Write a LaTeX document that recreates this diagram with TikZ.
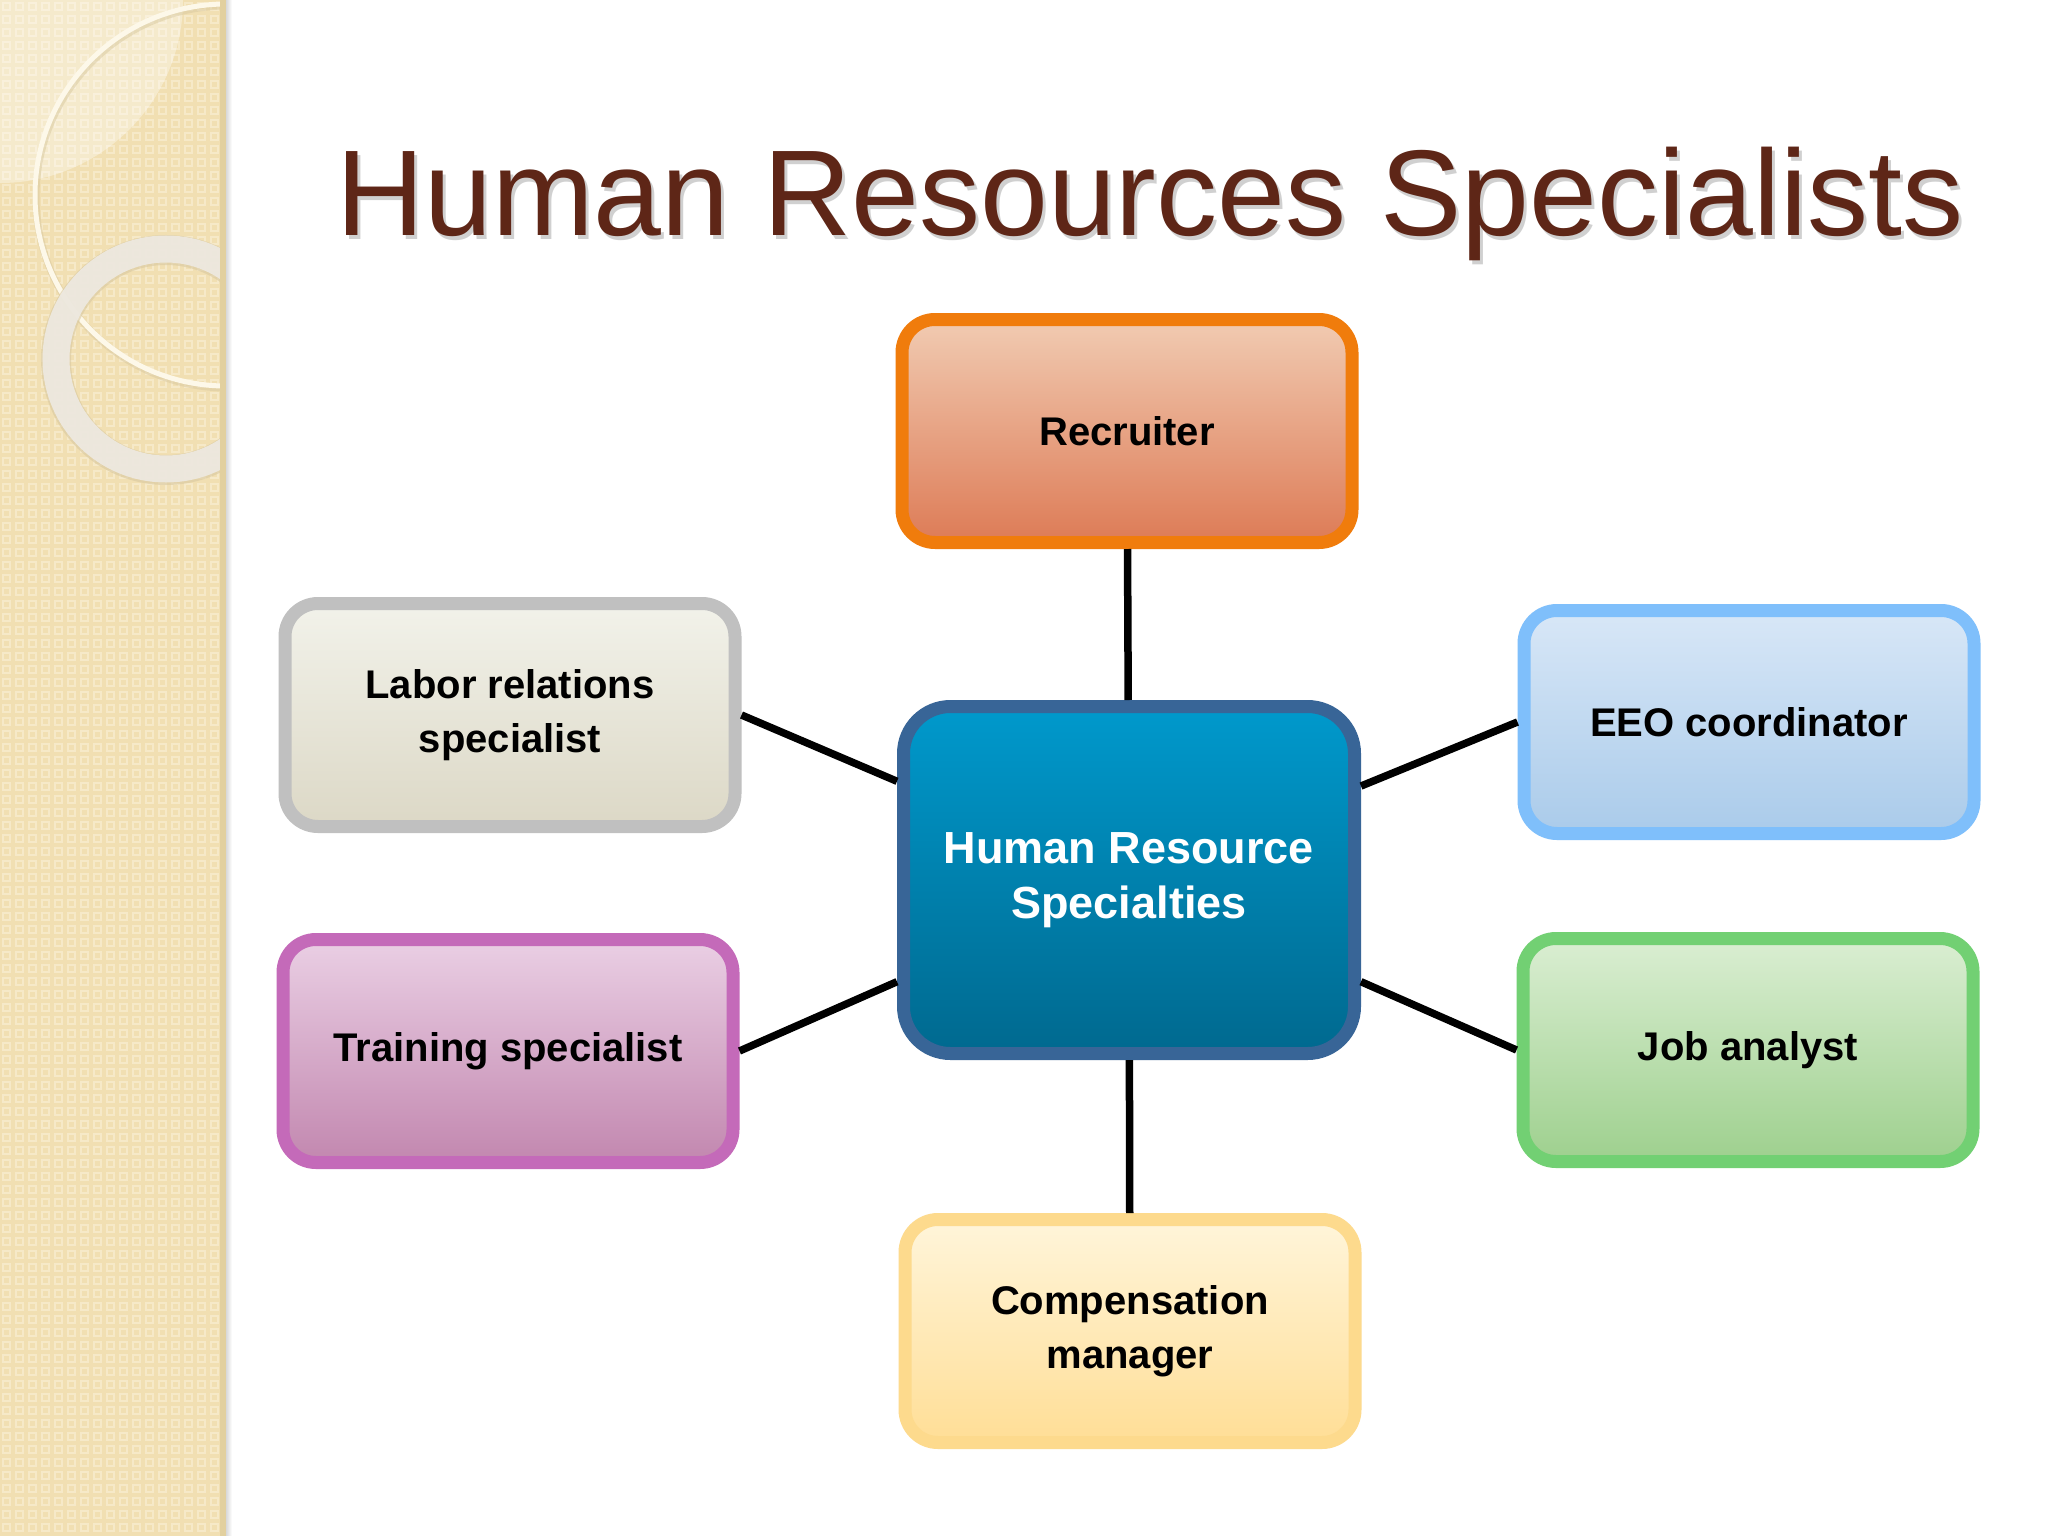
\documentclass[tikz,border=0pt]{standalone}
\usepackage{fontspec}
\setmainfont{Liberation Sans}
\definecolor{titlebrown}{HTML}{5E2617}
\definecolor{stripbase}{HTML}{F1DFB2}
\definecolor{stripsq}{HTML}{F6E9C8}
\definecolor{stripedge}{HTML}{E2D09F}
\definecolor{ringthin}{HTML}{FDF8E9}
\definecolor{ringthick}{HTML}{EEEAE2}
\definecolor{ringline}{HTML}{D9C9A0}
\definecolor{recB}{HTML}{F07C0C}\definecolor{recT}{HTML}{F1CBB2}\definecolor{recD}{HTML}{DD7B56}
\definecolor{cenB}{HTML}{386597}\definecolor{cenT}{HTML}{0099CC}\definecolor{cenD}{HTML}{00698F}
\definecolor{labB}{HTML}{C0C0C0}\definecolor{labT}{HTML}{F2F2EA}\definecolor{labD}{HTML}{DCD8C6}
\definecolor{eeoB}{HTML}{7FBFFB}\definecolor{eeoT}{HTML}{D8E7F7}\definecolor{eeoD}{HTML}{AACBEA}
\definecolor{trnB}{HTML}{C46AB9}\definecolor{trnT}{HTML}{EACFE4}\definecolor{trnD}{HTML}{C287AF}
\definecolor{jobB}{HTML}{72D073}\definecolor{jobT}{HTML}{DAEED2}\definecolor{jobD}{HTML}{9ED08E}
\definecolor{cmpB}{HTML}{FDDA8D}\definecolor{cmpT}{HTML}{FFF5DA}\definecolor{cmpD}{HTML}{FFDE96}
\tikzset{
  hrbox/.style={rectangle, rounded corners=33pt, line width=13pt,
    minimum width=450pt, minimum height=223pt, inner sep=0pt, align=center,
    font=\fontsize{40}{54}\selectfont\bfseries, text=black},
  boxcol/.style n args={3}{draw=#1, top color=#2, bottom color=#3},
  link/.style={draw=black, line width=7.5pt},
  patsq/.style={draw=stripsq, line width=1.6pt}
}
\begin{document}
\begin{tikzpicture}[x=1pt,y=-1pt]
\useasboundingbox (0,0) rectangle (2048,1536);
\fill[white] (0,0) rectangle (2048,1536);

% left decorative strip
\begin{scope}
  \clip (0,0) rectangle (226,1536);
  \fill[stripbase] (0,0) rectangle (226,1536);
  \foreach \i in {0,...,17}{
    \foreach \j in {0,...,118}{
      \draw[patsq] (\i*13+3,\j*13+3) rectangle ++(7,7);
    }
  }
  \fill[white, opacity=0.35] (0,0) circle (183);
  \draw[ringline, line width=7pt, opacity=0.5] (227,197) circle (191);
  \draw[ringthin, line width=5pt] (226,195) circle (191);
  \draw[ringline, line width=30pt, opacity=0.6] (166,360) circle (110);
  \draw[ringthick, line width=27pt, opacity=0.9] (166,359) circle (110);
  \fill[stripedge] (220,0) rectangle (226,1536);
\end{scope}
\shade[left color=black!15, right color=white] (226,0) rectangle (232,1536);

% title
\node[anchor=base, font=\fontsize{122}{122}\selectfont, text=black!30, opacity=0.6]
  (titleshadow) at (1153,239) {Human Resources Specialists};
\node[anchor=base, font=\fontsize{122}{122}\selectfont, text=titlebrown]
  (title) at (1150,235) {Human Resources Specialists};

% boxes
\node[hrbox, boxcol={recB}{recT}{recD}] (rec) at (1127,431) {Recruiter};
\node[hrbox, boxcol={labB}{labT}{labD}] (lab) at (510,715) {Labor relations\\specialist};
\node[hrbox, boxcol={eeoB}{eeoT}{eeoD}] (eeo) at (1749,722) {EEO coordinator};
\node[hrbox, boxcol={trnB}{trnT}{trnD}] (trn) at (508,1051) {Training specialist};
\node[hrbox, boxcol={jobB}{jobT}{jobD}] (job) at (1748,1050) {Job analyst};
\node[hrbox, boxcol={cmpB}{cmpT}{cmpD}] (cmp) at (1130,1331) {Compensation\\manager};
\node[hrbox, boxcol={cenB}{cenT}{cenD}, rounded corners=47pt, minimum width=451pt,
  minimum height=347pt, text=white, font=\fontsize{45}{55}\selectfont\bfseries]
  (cen) at (1129,880) {Human Resource\\Specialties};

% connectors
\draw[link] (rec) -- (cen);
\draw[link] (cen) -- (cmp);
\draw[link] (cen) -- (lab.east);
\draw[link] (cen) -- (trn.east);
\draw[link] (cen) -- (eeo.west);
\draw[link] (cen) -- (job.west);
\end{tikzpicture}
\end{document}
